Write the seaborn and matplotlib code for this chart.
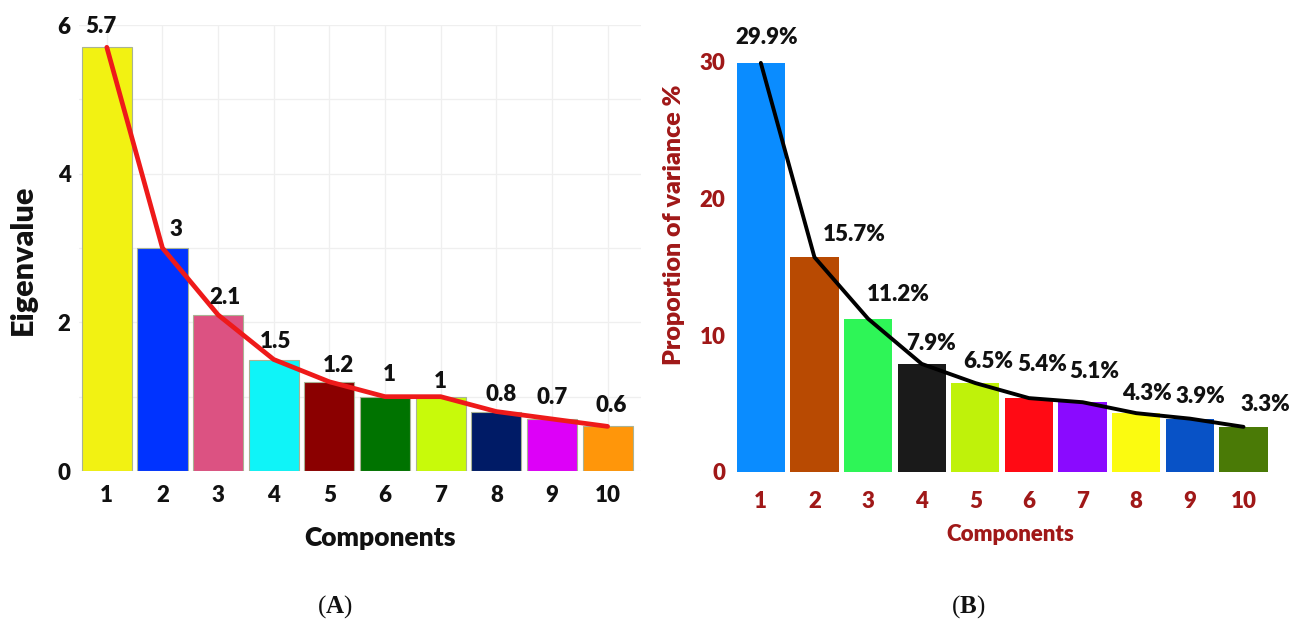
import numpy as np
import pandas as pd
import matplotlib
matplotlib.use("Agg")
import matplotlib.pyplot as plt
from matplotlib.ticker import MultipleLocator
import seaborn as sns

# ---------------- data ----------------
components = [str(i) for i in range(1, 11)]
eigenvalues = [5.7, 3.0, 2.1, 1.5, 1.2, 1.0, 1.0, 0.8, 0.7, 0.6]
eigen_labels = ["5.7", "3", "2.1", "1.5", "1.2", "1", "1", "0.8", "0.7", "0.6"]
variance_pct = [29.9, 15.7, 11.2, 7.9, 6.5, 5.4, 5.1, 4.3, 3.9, 3.3]
variance_labels = ["29.9%", "15.7%", "11.2%", "7.9%", "6.5%", "5.4%", "5.1%", "4.3%", "3.9%", "3.3%"]
yticks_a = [0, 2, 4, 6]
yticks_b = [0, 10, 20, 30]

# ---------------- style ----------------
colors_a = ["#f2f212", "#0033ff", "#dc5282", "#0ff4f8", "#8b0000",
            "#007300", "#c8fa0a", "#001b66", "#dd00f8", "#ff960a"]
colors_b = ["#0a8cff", "#b84a02", "#2ef557", "#1a1a1a", "#bff20a",
            "#ff0a14", "#8a0aff", "#fbfb10", "#0852c6", "#4a7a06"]
dark_red = "#a01818"
W8 = "heavy"
# small label nudges (pixels) reproducing the placement in the original
nudge_a_dx = [-6, 13, 7, 2, 9, 4, 0, 5, 0, 4]
nudge_a_dy = [10, 8, 7, 7, 6, 12, 5, 7, 11, 10]
nudge_b_dx = [6, 40, 30, 9, 13, 13, 12, 11, 11, 22]
nudge_b_dy = [15, 12, 14, 10, 11, 23, 20, 9, 12, 12]

sns.set_theme(style="white")
plt.rcParams["font.family"] = ["Lato", "DejaVu Sans"]
plt.rcParams["mathtext.fontset"] = "custom"
plt.rcParams["mathtext.rm"] = "Liberation Serif"
plt.rcParams["mathtext.bf"] = "Liberation Serif:bold"

W, H = 1299, 634
fig = plt.figure(figsize=(W / 100, H / 100), dpi=100)
fig.patch.set_facecolor("white")


def px_axes(l, t, r, b):
    return fig.add_axes([l / W, 1 - b / H, (r - l) / W, (b - t) / H])


axA = px_axes(79, 25, 641, 471)
axB = px_axes(734, 41, 1273, 472)

# ---------------- panel A ----------------
dfA = pd.DataFrame({"Components": components, "Eigenvalue": eigenvalues})
sns.barplot(data=dfA, x="Components", y="Eigenvalue", hue="Components",
            palette=colors_a, legend=False, width=0.9, saturation=1,
            edgecolor="#a9b394", linewidth=0.8, ax=axA)
xsA = axA.get_xticks()
axA.plot(xsA, eigenvalues, color="#ee1a1a", lw=3.4, zorder=5,
         solid_joinstyle="round", solid_capstyle="round")
for x, v, t, dx, dy in zip(xsA, eigenvalues, eigen_labels, nudge_a_dx, nudge_a_dy):
    axA.annotate(t, (x, v), xytext=(dx, dy), textcoords="offset pixels",
                 ha="center", va="bottom", fontsize=16, fontweight=W8,
                 color="#111111", annotation_clip=False, zorder=6)

axA.set_xlim(-0.5, 9.6)
axA.set_ylim(0, 6)
axA.set_yticks(yticks_a)
axA.yaxis.set_minor_locator(MultipleLocator(1))
axA.set_axisbelow(True)
axA.grid(True, which="both", color="#efefef", lw=0.9)
axA.tick_params(axis="both", which="both", length=0)
axA.tick_params(axis="x", pad=10, labelsize=16, labelcolor="#111111")
axA.tick_params(axis="y", pad=6, labelsize=16, labelcolor="#111111")
for lbl in axA.get_xticklabels() + axA.get_yticklabels():
    lbl.set_fontweight(W8)
axA.set_xlabel("Components", fontsize=19, fontweight=W8, color="#111111")
axA.xaxis.set_label_coords(0.535, -0.15)
axA.xaxis.label.set_va("center")
axA.set_ylabel("Eigenvalue", fontsize=22, fontweight=W8, color="#111111")
axA.yaxis.set_label_coords(-0.10, 0.473)
axA.yaxis.label.set_va("center")
for s in axA.spines.values():
    s.set_visible(False)

# ---------------- panel B ----------------
dfB = pd.DataFrame({"Components": components, "Variance": variance_pct})
sns.barplot(data=dfB, x="Components", y="Variance", hue="Components",
            palette=colors_b, legend=False, width=0.9, saturation=1,
            linewidth=0, ax=axB)
xsB = axB.get_xticks()
axB.plot(xsB, variance_pct, color="black", lw=2.8, zorder=5,
         solid_joinstyle="round", solid_capstyle="round")
for x, v, t, dx, dy in zip(xsB, variance_pct, variance_labels, nudge_b_dx, nudge_b_dy):
    axB.annotate(t, (x, v), xytext=(dx, dy), textcoords="offset pixels",
                 ha="center", va="bottom", fontsize=16, fontweight=W8,
                 color="#111111", annotation_clip=False, zorder=6)

axB.set_xlim(-0.5, 9.55)
axB.set_ylim(0, 31.5)
axB.set_yticks(yticks_b)
axB.grid(False)
axB.tick_params(axis="both", length=0)
axB.tick_params(axis="x", pad=14, labelsize=16, labelcolor=dark_red)
axB.tick_params(axis="y", pad=6, labelsize=16, labelcolor=dark_red)
for lbl in axB.get_xticklabels() + axB.get_yticklabels():
    lbl.set_fontweight(W8)
axB.set_xlabel("Components", fontsize=16, fontweight=W8, color=dark_red)
axB.xaxis.set_label_coords(0.512, -0.144)
axB.xaxis.label.set_va("center")
axB.set_ylabel("Proportion of variance %", fontsize=18, fontweight=W8, color=dark_red)
axB.yaxis.set_label_coords(-0.112, 0.573)
axB.yaxis.label.set_va("center")
for s in axB.spines.values():
    s.set_visible(False)

# ---------------- panel captions ----------------
fig.text(335 / W, 1 - 607 / H, r"($\mathbf{A}$)", fontsize=18, ha="center", va="center",
         family="Liberation Serif", color="#111111")
fig.text(968 / W, 1 - 607 / H, r"($\mathbf{B}$)", fontsize=18, ha="center", va="center",
         family="Liberation Serif", color="#111111")

fig.savefig("out.png", dpi=100, facecolor="white")
